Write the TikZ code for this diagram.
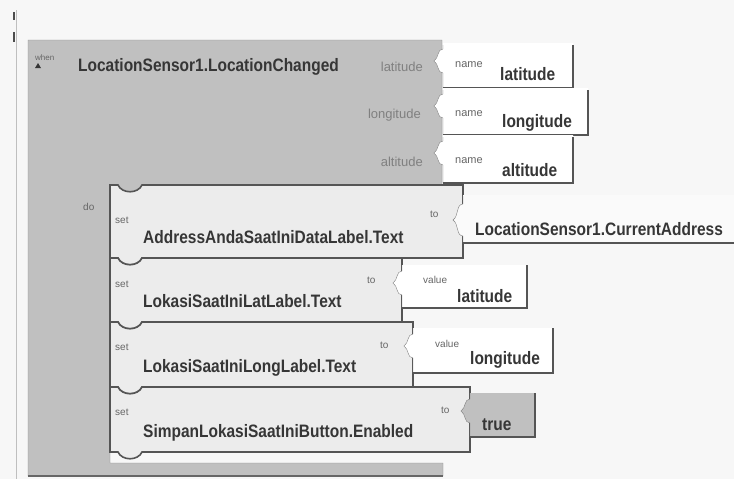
\documentclass[tikz,border=0pt]{standalone}
\usepackage{fontspec}
\setmainfont{Liberation Sans}
\usepackage{graphicx}

\definecolor{blockgray}{HTML}{C0C0C0}
\definecolor{setfill}{HTML}{ECECEC}
\definecolor{edge}{HTML}{555555}
\definecolor{ink}{HTML}{363636}
\newcommand{\narrow}[1]{\scalebox{0.86}[1]{#1}}

\begin{document}
\begin{tikzpicture}[x=1pt,y=-1pt,
    big/.style={anchor=base west,inner sep=0,text=ink,font=\fontsize{18}{18}\selectfont\bfseries},
    tiny/.style={anchor=base west,inner sep=0,text=black!60,font=\fontsize{10}{10}\selectfont},
    param/.style={anchor=base east,inner sep=0,text=black!50,font=\fontsize{13}{13}\selectfont},
    setblock/.style={fill=setfill,draw=edge,line width=1.6pt},
    rim/.style={draw=edge,line width=1.6pt},
    ]
    \useasboundingbox (0,0) rectangle (734,479);
    \fill[black!3] (0,0) rectangle (734,479);
    
    % margin line at the left
    \draw[black!25] (16,10) -- (16,479);
    \draw[black!70,line width=1.2pt] (14,12) -- (14,20);
    \draw[black!70,line width=1.2pt] (14,32) -- (14,42);
    
    % event block
    \filldraw[fill=blockgray,draw=black!45] (28,40) -- (442,40) -- (442,185) -- (142,185)
        .. controls (138,194) and (122,194) .. (118,185) -- (110,185) -- (110,463)
        -- (443,463) -- (443,476) -- (28,476) -- cycle;
    \draw[black!60,line width=1.2pt] (28,476) -- (443,476);
    
    % parameter sockets
    \foreach \ya/\yb/\xr in {43/88/573, 88/135/588, 135/183/573} {
        \fill[white] (443,\ya) -- (\xr,\ya) -- (\xr,\yb) -- (443,\yb) -- (443,\ya+30)
            .. controls (437,\ya+30) and (439,\ya+21) .. (434,\ya+18)
            .. controls (439,\ya+15) and (437,\ya+6) .. (443,\ya+6) -- cycle;
        \draw[black!50] (443,\ya+2) -- (443,\ya+6) .. controls (437,\ya+6) and (439,\ya+15) .. (434,\ya+18)
            .. controls (439,\ya+21) and (437,\ya+30) .. (443,\ya+30) -- (443,\yb);
        \draw[rim] (\xr,\ya+2) -- (\xr,\yb) -- (443,\yb);
    }
    
    \node[tiny,font=\fontsize{8}{8}\selectfont] (when) at (35,60) {when};
    \fill[ink] (35,68) -- (41,68) -- (38,63) -- cycle;
    \node[big] (evt) at (78,71) {\narrow{LocationSensor1.LocationChanged}};
    \node[param] (plat) at (423,71) {latitude};
    \node[param] (plon) at (421,118) {longitude};
    \node[param] (palt) at (423,166) {altitude};
    \node[tiny,font=\fontsize{11}{11}\selectfont] (nlat) at (455,67) {name};
    \node[tiny,font=\fontsize{11}{11}\selectfont] (nlon) at (455,116) {name};
    \node[tiny,font=\fontsize{11}{11}\selectfont] (nalt) at (455,163) {name};
    \node[big] (vlat) at (500,80) {\narrow{latitude}};
    \node[big] (vlon) at (502,127) {\narrow{longitude}};
    \node[big] (valt) at (502,176) {\narrow{altitude}};
    \node[tiny] (do) at (83,210) {do};
    
    % set blocks
    \foreach \ya/\yb/\xr in {185/258/463, 258/322/402, 322/387/413, 387/452/470} {
        \draw[setblock] (110,\ya) -- (118,\ya) .. controls (122,\ya+9) and (138,\ya+9) .. (142,\ya)
            -- (\xr,\ya) -- (\xr,\yb) -- (142,\yb) .. controls (138,\yb+9) and (122,\yb+9) .. (118,\yb)
            -- (110,\yb) -- cycle;
    }
    
    % value sockets
    \fill[black!2] (463,195) -- (740,195) -- (740,243) -- (463,243) -- (463,236)
        .. controls (456,236) and (459,224) .. (453,220) .. controls (459,216) and (456,204) .. (463,204) -- cycle;
    \draw[black!50] (463,196) -- (463,204) .. controls (456,204) and (459,216) .. (453,220)
        .. controls (459,224) and (456,236) .. (463,236) -- (463,243);
    \draw[rim] (463,243) -- (740,243);
    
    \foreach \ya/\yb/\xl/\xr/\col in {265/308/402/527/white, 328/373/413/553/white, 393/437/470/535/blockgray} {
        \fill[\col] (\xl,\ya) -- (\xr,\ya) -- (\xr,\yb) -- (\xl,\yb) -- (\xl,\ya+30)
            .. controls (\xl-6,\ya+30) and (\xl-4,\ya+21) .. (\xl-9,\ya+18)
            .. controls (\xl-4,\ya+15) and (\xl-6,\ya+6) .. (\xl,\ya+6) -- cycle;
        \draw[black!50] (\xl,\ya) -- (\xl,\ya+6) .. controls (\xl-6,\ya+6) and (\xl-4,\ya+15) .. (\xl-9,\ya+18)
            .. controls (\xl-4,\ya+21) and (\xl-6,\ya+30) .. (\xl,\ya+30) -- (\xl,\yb);
        \draw[rim] (\xr,\ya) -- (\xr,\yb) -- (\xl,\yb);
    }
    
    \node[tiny] (set1) at (115,223) {set};
    \node[tiny] (set2) at (115,287) {set};
    \node[tiny] (set3) at (115,350) {set};
    \node[tiny] (set4) at (115,415) {set};
    \node[big] (addr) at (143,243) {\narrow{AddressAndaSaatIniDataLabel.Text}};
    \node[big] (lat) at (143,307) {\narrow{LokasiSaatIniLatLabel.Text}};
    \node[big] (lon) at (143,372) {\narrow{LokasiSaatIniLongLabel.Text}};
    \node[big] (btn) at (143,437) {\narrow{SimpanLokasiSaatIniButton.Enabled}};
    \node[tiny] (to1) at (430,217) {to};
    \node[tiny] (to2) at (367,283) {to};
    \node[tiny] (to3) at (380,348) {to};
    \node[tiny] (to4) at (441,413) {to};
    
    \node[big] (cur) at (475,235) {\narrow{LocationSensor1.CurrentAddress}};
    \node[tiny] (val1) at (423,283) {value};
    \node[big] (glat) at (457,302) {\narrow{latitude}};
    \node[tiny] (val2) at (435,347) {value};
    \node[big] (glon) at (470,364) {\narrow{longitude}};
    \node[big] (true) at (482,430) {\narrow{true}};
\end{tikzpicture}
\end{document}
